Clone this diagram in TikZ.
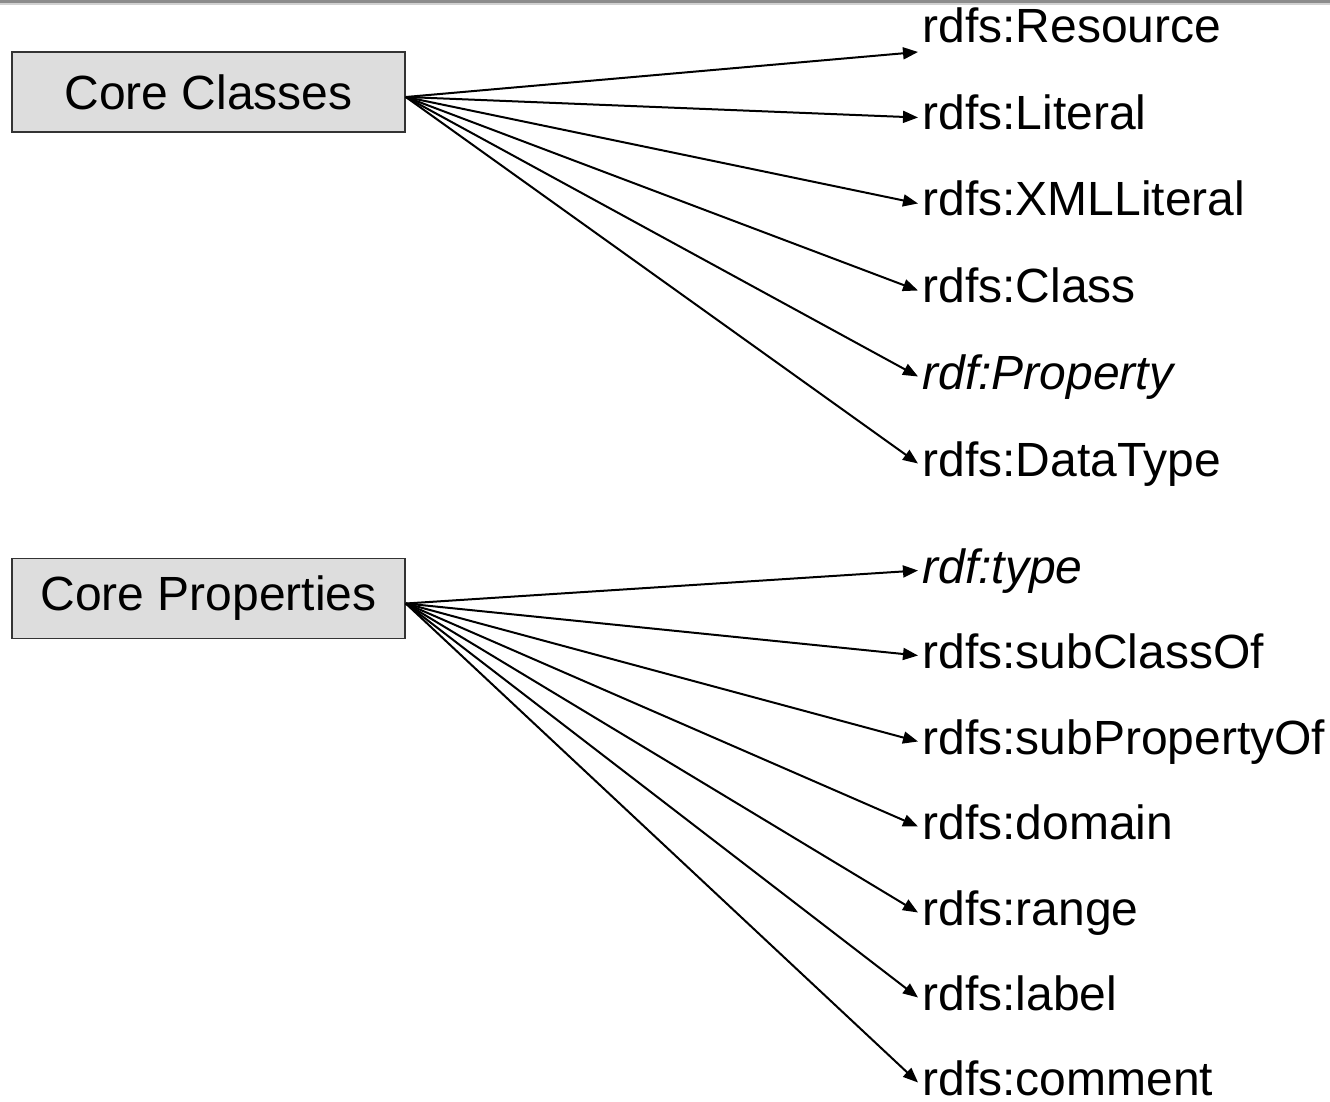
\documentclass[tikz,border=0pt]{standalone}
\usepackage{fontspec}
\setmainfont{Liberation Sans}
\usepackage{tikz}
\usetikzlibrary{arrows.meta}
\tikzstyle{canvas} = [x = .5pt, y = -.5pt]
\definecolor{boxGray}{HTML}{DDDDDD}
\definecolor{barGray}{HTML}{8C8C8C}
\newcommand{\bigFont}{\fontsize{24}{28}\selectfont}
\tikzstyle{coreBox} = [draw=black!80, fill=boxGray, line width=.8pt, minimum width=196.5pt, minimum height=40pt, inner sep=0pt, font=\bigFont]
\tikzstyle{termText} = [anchor=base west, inner xsep=2pt, inner ysep=0pt, text height=12.5pt, text depth=0pt, font=\bigFont]
\tikzstyle{termArrow} = [-{Triangle[length=7.5pt,width=6pt]}, line width=1pt]
\newcommand{\termX}{918}
\newcommand{\coreTerm}[4]{\node [termText] (#1) at (\termX, #3) {#4}; \draw [termArrow] ([yshift=-2.5pt]#2.east) -- (#1.west);}

\begin{document}
\begin{tikzpicture}[canvas]
    \useasboundingbox (0,0) rectangle (1330,1102);
    \fill [barGray] (0,0) rectangle (1330,3);
    \fill [barGray!40] (0,3) rectangle (1330,5);
    % the two groups
    \node [coreBox] (classes) at (208.5,92) {Core Classes};
    \node [coreBox] (properties) at (208.5,598.5) {Core Properties};
    % classes
    \node [termText] (resource) at (\termX,43) {rdfs:Resource};
    \draw [termArrow] ([yshift=-2.5pt]classes.east) -- ([yshift=-10.75pt]resource.west);
    \coreTerm{literal}{classes}{130}{rdfs:Literal}
    \coreTerm{xmlLiteral}{classes}{216}{rdfs:XMLLiteral}
    \coreTerm{class}{classes}{303}{rdfs:Class}
    \coreTerm{property}{classes}{389}{\itshape rdf:Property}
    \coreTerm{dataType}{classes}{476}{rdfs:DataType}
    % properties
    \coreTerm{type}{properties}{583}{\itshape rdf:type}
    \coreTerm{subClassOf}{properties}{668}{rdfs:subClassOf}
    \coreTerm{subPropertyOf}{properties}{754}{rdfs:subPropertyOf}
    \coreTerm{domain}{properties}{839}{rdfs:domain}
    \coreTerm{range}{properties}{925}{rdfs:range}
    \coreTerm{label}{properties}{1010}{rdfs:label}
    \coreTerm{comment}{properties}{1095}{rdfs:comment}
\end{tikzpicture}
\end{document}
